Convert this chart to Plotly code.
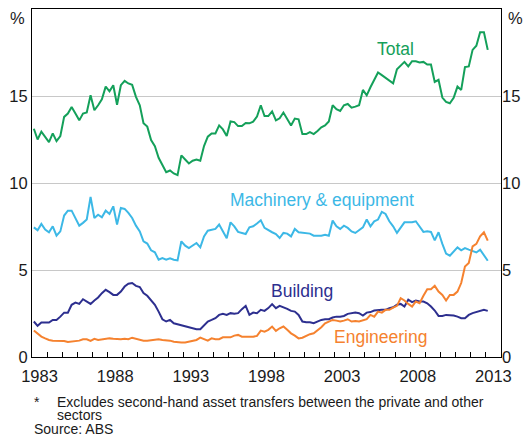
import pandas as pd
import plotly.graph_objects as go

# Quarterly data, March quarter 1983 to March quarter 2013 (per cent)
quarters = pd.period_range("1983Q1", "2013Q1", freq="Q")
dates = [q.start_time + pd.Timedelta(days=45) for q in quarters]

total = [
    13.12, 12.5, 12.95, 12.66, 12.35, 12.85, 12.41, 12.7, 13.8, 13.99,
    14.37, 13.99, 13.6, 13.99, 14.05, 15.04, 14.18, 14.47, 14.81, 15.54,
    15.27, 15.62, 14.5, 15.62, 15.87, 15.72, 15.64, 14.95, 14.47, 13.43,
    13.24, 12.47, 12.12, 11.45, 11.07, 10.62, 10.72, 10.55, 10.45, 11.59,
    11.35, 11.12, 11.28, 11.35, 11.28, 12.12, 12.66, 12.85, 12.85, 13.31,
    13.08, 12.7, 13.54, 13.5, 13.27, 13.27, 13.45, 13.43, 13.53, 13.82,
    14.47, 13.85, 13.85, 14.12, 13.6, 13.72, 14.05, 13.7, 13.31, 13.7,
    13.66, 12.81, 12.81, 12.93, 12.81, 12.99, 13.2, 13.31, 13.54, 14.47,
    14.24, 14.14, 14.47, 14.54, 14.33, 14.39, 14.47, 15.35, 15.04, 15.5,
    15.9, 16.35, 16.2, 16.05, 15.9, 15.73, 16.54, 16.73, 16.96, 16.7,
    17.0, 17.0, 16.93, 16.96, 16.81, 16.81, 15.81, 15.93, 14.91, 14.66,
    14.58, 14.89, 15.54, 15.35, 16.66, 16.7, 17.65, 17.89, 18.66, 18.66, 17.65,
]

machinery = [
    7.45, 7.28, 7.65, 7.32, 7.17, 7.51, 6.97, 7.22, 8.13, 8.41,
    8.41, 7.99, 7.55, 7.71, 7.9, 9.2, 7.99, 8.18, 8.03, 8.41,
    8.22, 8.66, 7.61, 8.57, 8.51, 8.28, 7.99, 7.55, 7.22, 6.65,
    6.52, 6.13, 6.02, 5.59, 5.69, 5.59, 5.67, 5.59, 5.55, 6.65,
    6.4, 6.26, 6.42, 6.55, 6.3, 6.93, 7.26, 7.32, 7.36, 7.61,
    7.22, 6.82, 7.74, 7.51, 7.19, 7.13, 7.07, 7.45, 7.51, 7.67,
    7.86, 7.42, 7.28, 7.17, 7.07, 6.84, 7.13, 7.09, 6.93, 7.36,
    7.17, 7.13, 7.13, 7.09, 6.97, 6.97, 6.97, 7.03, 6.97, 7.84,
    7.51, 7.36, 7.55, 7.42, 7.22, 7.13, 7.28, 7.45, 7.9, 7.51,
    7.8, 7.9, 8.34, 8.22, 7.8, 7.51, 7.13, 7.42, 7.74, 7.74,
    7.74, 7.8, 7.47, 7.19, 7.22, 7.19, 6.7, 7.17, 6.5, 5.94,
    5.82, 6.07, 6.3, 6.13, 6.26, 6.17, 6.07, 6.01, 6.17, 5.88, 5.53,
]

building = [
    2.04, 1.79, 1.98, 1.98, 1.98, 2.13, 2.13, 2.32, 2.55, 2.55,
    3.0, 3.13, 3.05, 3.32, 3.19, 3.05, 3.25, 3.42, 3.67, 3.86,
    3.73, 3.57, 3.57, 3.76, 4.05, 4.21, 4.25, 4.09, 4.02, 3.67,
    3.52, 3.29, 3.0, 2.61, 2.17, 2.04, 2.13, 1.94, 1.88, 1.84,
    1.75, 1.69, 1.63, 1.6, 1.6, 1.81, 2.04, 2.13, 2.23, 2.42,
    2.48, 2.42, 2.52, 2.48, 2.52, 2.75, 2.94, 2.42, 2.55, 2.52,
    2.71, 2.65, 2.81, 3.04, 2.81, 2.94, 2.86, 2.77, 2.65, 2.61,
    2.42, 2.04, 2.0, 2.0, 1.94, 2.04, 2.13, 2.17, 2.17, 2.27,
    2.32, 2.32, 2.36, 2.48, 2.52, 2.55, 2.52, 2.38, 2.55, 2.58,
    2.67, 2.71, 2.71, 2.71, 2.81, 2.86, 3.0, 3.05, 2.9, 3.29,
    3.15, 3.25, 3.19, 3.19, 3.09, 2.9, 2.67, 2.36, 2.36, 2.42,
    2.42, 2.38, 2.32, 2.23, 2.23, 2.42, 2.52, 2.58, 2.61, 2.71, 2.65,
]

engineering = [
    1.52, 1.36, 1.17, 1.07, 0.98, 0.94, 0.94, 0.94, 0.92, 0.86,
    0.88, 0.9, 0.94, 1.02, 1.02, 0.92, 1.04, 0.98, 1.02, 1.07,
    1.07, 1.05, 1.02, 1.02, 1.05, 1.02, 1.11, 1.04, 0.98, 0.94,
    0.94, 0.98, 0.98, 1.02, 0.98, 0.98, 0.94, 0.88, 0.84, 0.84,
    0.84, 0.88, 0.92, 0.98, 1.11, 1.02, 0.94, 1.07, 1.02, 1.02,
    1.13, 1.13, 1.13, 1.23, 1.27, 1.17, 1.17, 1.13, 1.17, 1.21,
    1.52, 1.46, 1.56, 1.75, 1.5, 1.65, 1.75, 1.56, 1.36, 1.23,
    1.07, 1.11, 1.21, 1.31, 1.36, 1.52, 1.71, 1.94, 2.04, 2.13,
    2.09, 2.04, 2.09, 2.17, 2.04, 2.07, 2.04, 2.09, 2.17, 2.42,
    2.32, 2.61, 2.55, 2.71, 2.71, 2.84, 2.94, 3.38, 3.25, 3.05,
    2.9, 3.19, 3.09, 3.52, 3.9, 3.9, 4.09, 3.76, 3.57, 3.25,
    3.57, 3.57, 3.76, 4.25, 5.2, 5.4, 6.36, 6.5, 6.93, 7.17, 6.69,
]

year_labels = [str(y) for y in range(1983, 2014, 5)]
y_ticks = [0, 5, 10, 15]

series = [
    ("Total", total, "#14A05A"),
    ("Machinery & equipment", machinery, "#3CB8E6"),
    ("Building", building, "#2D2F8F"),
    ("Engineering", engineering, "#F5822F"),
]

FONT = "Liberation Sans, Arial, sans-serif"
TXT = "#1a1a1a"

fig = go.Figure()
for name, vals, col in series:
    fig.add_trace(go.Scatter(x=dates, y=vals, mode="lines", name=name,
                             line=dict(color=col, width=2), hoverinfo="skip"))
# invisible trace to activate the right-hand axis
fig.add_trace(go.Scatter(x=dates, y=total, yaxis="y2", mode="lines",
                         line=dict(width=0, color="rgba(0,0,0,0)"),
                         hoverinfo="skip", showlegend=False))

tickvals = [f"{y}-07-02" for y in year_labels]
minor_vals = [f"{y}-01-01" for y in range(1984, 2014)]

fig.update_layout(
    width=528, height=439,
    margin=dict(l=32, r=22, t=8, b=82),
    paper_bgcolor="white", plot_bgcolor="white",
    showlegend=False,
    font=dict(family=FONT, color=TXT, size=16),
    xaxis=dict(
        type="date", range=["1983-01-01", "2014-01-01"],
        tickvals=tickvals, ticktext=year_labels, ticks="",
        ticklabelstandoff=4,
        showgrid=False, showline=True, linecolor="black", linewidth=1,
        mirror=True, tickfont=dict(size=16.5, color=TXT),
        minor=dict(tickvals=minor_vals, ticks="inside", ticklen=5,
                   tickcolor="black", tickwidth=1, showgrid=False),
        zeroline=False,
    ),
    yaxis=dict(
        range=[0, 20], tickvals=y_ticks, ticks="", showgrid=True,
        gridcolor="#c8c8c8", gridwidth=1, showline=True, linecolor="black",
        linewidth=1, mirror=True, zeroline=False,
        tickfont=dict(size=16.5, color=TXT),
    ),
    yaxis2=dict(
        range=[0, 20], tickvals=y_ticks, ticks="", overlaying="y",
        side="right", showgrid=False, zeroline=False, showline=False,
        tickfont=dict(size=16.5, color=TXT),
    ),
)

def label(text, x, y, color, size=17.5, xanchor="center"):
    fig.add_annotation(text=text, x=x, y=y, xref="paper", yref="paper",
                       showarrow=False, xanchor=xanchor, yanchor="middle",
                       font=dict(size=size, color=color, family=FONT))

label("Total", 0.776, 0.885, series[0][2])
label("Machinery & equipment", 0.6175, 0.45, series[1][2])
label("Building", 0.5753, 0.19, series[2][2])
label("Engineering", 0.7426, 0.057, series[3][2])

# unit labels
label("%", -0.03, 0.975, TXT, size=16.5)
label("%", 1.03, 0.975, TXT, size=16.5)

# footnotes
label("*", 0.0, -0.128, TXT, size=14, xanchor="left")
label("Excludes second-hand asset transfers between the private and other",
      0.0485, -0.128, TXT, size=14, xanchor="left")
label("sectors", 0.0485, -0.168, TXT, size=14, xanchor="left")
label("Source: ABS", 0.0, -0.206, TXT, size=14, xanchor="left")

fig.write_html("out.html",
               config={"displayModeBar": False, "staticPlot": True},
               post_script="document.body.style.margin='0px';"
                           "document.body.style.overflow='hidden';")
